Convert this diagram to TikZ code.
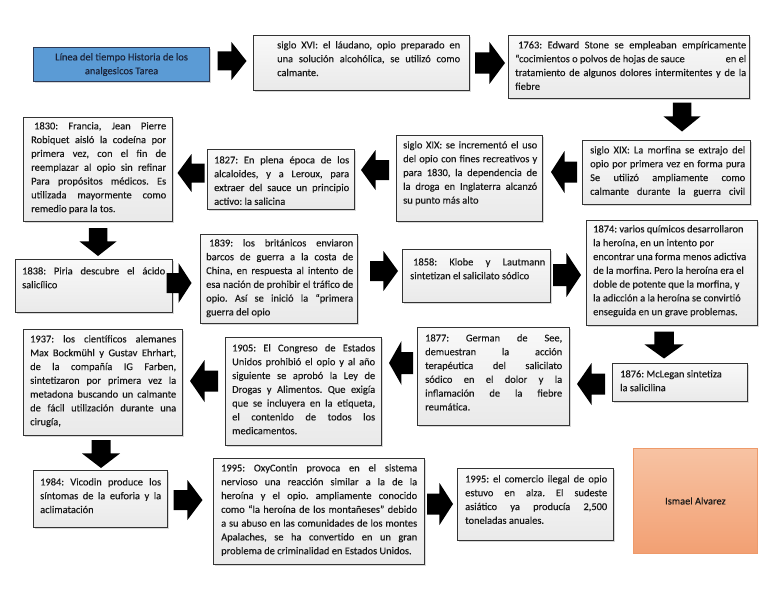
\documentclass[tikz,border=0pt]{standalone}
\usepackage{fontspec}
\setmainfont{Carlito}[FakeBold=0.2]
\usetikzlibrary{shadows}
\definecolor{boxborder}{HTML}{333333}
\definecolor{titleblue}{HTML}{5B9BD5}
\definecolor{titleborder}{HTML}{2E3A55}
\definecolor{titletext}{HTML}{1A2238}
\definecolor{salmontop}{HTML}{F7C3A3}
\definecolor{salmonbot}{HTML}{F2A073}
\definecolor{salmonborder}{HTML}{EE9A6A}
\definecolor{txt}{HTML}{161616}
\newcommand{\boxfont}{\fontsize{10.4}{13.8}\selectfont\frenchspacing\hyphenpenalty=10000\exhyphenpenalty=10000\tolerance=10000}
% text box: name, left, top, right, bottom, padL, padR, padT, text
\newcommand{\tbox}[9]{%
  \pgfmathsetmacro\bw{#4-#2}%
  \pgfmathsetmacro\bh{#5-#3}%
  \pgfmathsetmacro\tw{#4-#2-#6-#7}%
  \node[gbox, minimum width=\bw pt, minimum height=\bh pt] (#1) at (#2,#3) {};
  \node[btext, text width=\tw pt] (#1-t) at (#2+#6,#3+#8) {#9};
}
% block arrow: cx, cy, angle, length, head width
\newcommand{\barrow}[5]{%
  \fill[arrowfill, shift={(#1,#2)}, rotate=#3]
    (-#4/2,-#5*0.25) -- (-#4*0.02,-#5*0.25) -- (-#4*0.02,-#5/2) -- (#4/2,0)
    -- (-#4*0.02,#5/2) -- (-#4*0.02,#5*0.25) -- (-#4/2,#5*0.25) -- cycle;
}
\begin{document}
\begin{tikzpicture}[x=1pt,y=-1pt,
  gbox/.style={anchor=north west, inner sep=0pt, draw=boxborder, line width=1.2pt,
    top color=gray!5, bottom color=gray!17,
    drop shadow={shadow xshift=1.5pt, shadow yshift=-1.5pt, opacity=0.3}},
  btext/.style={anchor=north west, inner sep=0pt, align=justify, font=\boxfont, text=txt},
  arrowfill/.style={fill=black}]
\fill[white] (0,0) rectangle (768,594);
\useasboundingbox (0,0) rectangle (768,594);

% title
\node[anchor=north west, inner sep=0pt, minimum width=176pt, minimum height=34pt,
  fill=titleblue, draw=titleborder, line width=1.2pt, align=center, font=\boxfont,
  text=titletext, drop shadow={shadow xshift=1.5pt, shadow yshift=-1.5pt, opacity=0.3}]
  (title) at (33,47) {Línea del tiempo Historia de los\\analgesicos Tarea};

\tbox{xvi}{253}{35}{469}{90}{24}{9}{6}{siglo XVI: el láudano, opio preparado en\linebreak
una solución alcohólica, se utilizó como\linebreak calmante.}

\tbox{s1763}{508}{35}{749}{98}{7}{3}{6}{\hspace*{3pt}1763: Edward Stone se empleaban empíricamente\linebreak
“cocimientos o polvos de hojas de sauce\hfill en el\linebreak
tratamiento de algunos dolores intermitentes y de la\linebreak fiebre}

\tbox{morf}{582}{140}{750}{204}{8}{5}{6}{siglo XIX: La morfina se extrajo del\linebreak
opio por primera vez en forma pura\linebreak
Se utilizó ampliamente como\linebreak
calmante durante la guerra civil\linebreak}

\tbox{uso}{396}{135}{542}{221}{7}{5}{6}{siglo XIX: se incrementó el uso\linebreak
del opio con fines recreativos y\linebreak
para 1830, la dependencia de\linebreak
la droga en Inglaterra alcanzó\linebreak
su punto más alto}

\tbox{s1827}{207}{149}{354}{209}{7}{5}{7}{1827: En plena época de los\linebreak
alcaloides, y a Leroux, para\linebreak
extraer del sauce un principio\linebreak
activo: la salicina}

\tbox{s1830}{23}{117}{172}{221}{8}{6}{5}{\hspace*{3pt}1830: Francia, Jean Pierre\linebreak
Robiquet aisló la codeína por\linebreak
primera vez, con el fin de\linebreak
reemplazar al opio sin refinar\linebreak
Para propósitos médicos. Es\linebreak
utilizada mayormente como\linebreak
remedio para la tos.}

\tbox{s1838}{15}{259}{172}{312}{7}{7}{8}{1838: Piria descubre el ácido\linebreak salicílico}

\tbox{s1839}{200}{234}{357}{323}{6}{4}{5}{\hspace*{3pt}1839: los británicos enviaron\linebreak
barcos de guerra a la costa de\linebreak
China, en respuesta al intento de\linebreak
esa nación de prohibir el tráfico de\linebreak
opio. Así se inició la “primera\linebreak
guerra del opio}

\tbox{s1858}{402}{249}{550}{302}{8}{5}{9}{\hspace*{3pt}1858: Klobe y Lautmann\linebreak
sintetizan el salicilato sódico}

\tbox{s1874}{586}{220}{757}{325}{7}{3}{5}{1874: varios químicos desarrollaron\\
la heroína, en un intento por\\
encontrar una forma menos adictiva\\
de la morfina. Pero la heroína era el\\
doble de potente que la morfina, y\\
la adicción a la heroína se convirtió\\
enseguida en un grave problemas.}

\tbox{s1876}{612}{363}{747}{401}{8}{6}{7}{1876: McLegan sintetiza\\la salicilina}

\tbox{s1877}{417}{327}{569}{425}{8}{7}{7}{1877: German de See,\linebreak
demuestran la acción\linebreak
terapéutica del salicilato\linebreak
sódico en el dolor y la\linebreak
inflamación de la fiebre\linebreak
reumática.}

\tbox{s1905}{225}{337}{381}{445}{7}{6}{7}{1905: El Congreso de Estados\linebreak
Unidos prohibió el opio y al año\linebreak
siguiente se aprobó la Ley de\linebreak
Drogas y Alimentos. Que exigía\linebreak
que se incluyera en la etiqueta,\linebreak
el contenido de todos los\linebreak
medicamentos.}

\tbox{s1937}{23}{329}{182}{435}{7}{6}{6}{1937: los científicos alemanes\linebreak
Max Bockmühl y Gustav Ehrhart,\linebreak
de la compañía IG Farben,\linebreak
sintetizaron por primera vez la\linebreak
metadona buscando un calmante\linebreak
de fácil utilización durante una\linebreak
cirugía,}

\tbox{s1984}{33}{470}{167}{527}{7}{6}{8}{1984: Vicodin produce los\linebreak
síntomas de la euforia y la\linebreak
aclimatación}

\tbox{oxy}{213}{458}{424}{564}{8}{7}{6}{1995: OxyContin provoca en el sistema\linebreak
nervioso una reacción similar a la de la\linebreak
heroína y el opio. ampliamente conocido\linebreak
como “la heroína de los montañeses” debido\linebreak
a su abuso en las comunidades de los montes\linebreak
Apalaches, se ha convertido en un gran\linebreak
problema de criminalidad en Estados Unidos.}

\tbox{com}{457}{468}{613}{540}{8}{6}{7}{1995: el comercio ilegal de opio\linebreak
estuvo en alza. El sudeste\linebreak
asiático ya producía 2,500\linebreak
toneladas anuales.}

% author
\node[anchor=north west, inner sep=0pt, minimum width=124pt, minimum height=105pt,
  top color=salmontop, bottom color=salmonbot, draw=salmonborder, line width=0.8pt,
  font=\boxfont, text=txt] (author) at (633,448) {Ismael Alvarez};

% block arrows
\barrow{232}{61}{0}{29}{38}
\barrow{490}{63}{0}{30}{42}
\barrow{682}{117}{-90}{29}{37}
\barrow{564}{172}{180}{26}{42}
\barrow{375}{170}{180}{28}{40}
\barrow{191}{173}{180}{27}{38}
\barrow{98}{242}{-90}{28}{37}
\barrow{179}{283}{0}{25}{40}
\barrow{384}{271}{0}{28}{40}
\barrow{567}{275}{0}{28}{44}
\barrow{664}{345}{-90}{27}{39}
\barrow{591}{384}{180}{28}{42}
\barrow{401}{363}{180}{24}{44}
\barrow{204}{381}{180}{28}{42}
\barrow{101}{454}{-90}{28}{38}
\barrow{188}{500}{0}{29}{40}
\barrow{440}{504}{0}{26}{42}
\end{tikzpicture}
\end{document}
